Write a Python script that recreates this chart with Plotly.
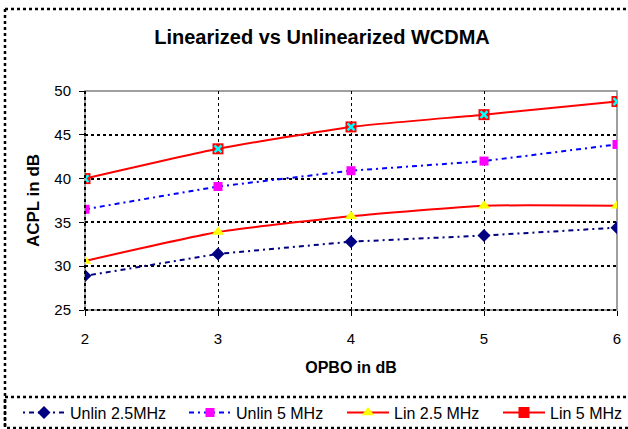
import plotly.graph_objects as go

opbo = [2, 3, 4, 5, 6]
unlin_25 = [28.9, 31.4, 32.8, 33.5, 34.4]
unlin_5 = [36.5, 39.1, 40.9, 42.0, 43.9]
lin_25 = [30.6, 33.9, 35.7, 36.9, 36.9]
lin_5 = [40.0, 43.4, 45.9, 47.3, 48.8]

FONT = "Liberation Sans, Arial, sans-serif"

W, H = 628, 429
L, R, T, B = 85, 11, 91, 119
pw, ph = W - L - R, H - T - B

def px_x(x):
    return (x - L) / pw

def px_y(y):
    return (H - B - y) / ph

fig = go.Figure()
fig.add_trace(go.Scatter(x=opbo, y=unlin_25, name="Unlin 2.5MHz", mode="lines+markers",
                         legend="legend", showlegend=True,
                         line=dict(color="#000080", width=2, dash="2px,4px,5px,4px"),
                         marker=dict(symbol="diamond", size=10, color="#000080")))
fig.add_trace(go.Scatter(x=opbo, y=unlin_5, name="Unlin 5 MHz", mode="lines+markers",
                         legend="legend2", showlegend=True,
                         line=dict(color="#0000FF", width=2, dash="5px,4px,2px,4px"),
                         marker=dict(symbol="square", size=9, color="#FF00FF")))
fig.add_trace(go.Scatter(x=opbo, y=lin_25, name="Lin 2.5 MHz", mode="lines+markers",
                         legend="legend3", showlegend=True,
                         line=dict(color="#FF0000", width=2, shape="spline", smoothing=0.5),
                         marker=dict(symbol="triangle-up", size=11, color="#FFFF00")))
fig.add_trace(go.Scatter(x=opbo, y=lin_5, name="Lin 5 MHz", mode="lines+markers",
                         legend="legend4", legendgroup="l5", showlegend=True,
                         line=dict(color="#FF0000", width=2, shape="spline", smoothing=0.5),
                         marker=dict(symbol="square", size=11, color="#FF0000")))
fig.add_trace(go.Scatter(x=opbo, y=lin_5, name="Lin 5 MHz", mode="markers",
                         legend="legend4", legendgroup="l5", showlegend=False,
                         marker=dict(symbol="x-thin-open", size=7, color="#00FFFF",
                                     line=dict(color="#00FFFF", width=2.5))))

shapes = [
    dict(type="rect", xref="paper", yref="paper", x0=0, x1=1, y0=0, y1=1,
         line=dict(color="#808080", width=1.5), layer="below"),
    dict(type="line", xref="paper", yref="paper", x0=0, x1=0, y0=0, y1=1,
         line=dict(color="black", width=2, dash="dot")),
    dict(type="line", xref="paper", yref="paper", x0=0, x1=1, y0=0, y1=0,
         line=dict(color="black", width=2, dash="dot")),
    dict(type="line", xref="paper", yref="paper", x0=px_x(5), x1=px_x(5), y0=px_y(9), y1=px_y(440),
         line=dict(color="black", width=2.5, dash="dot")),
    dict(type="line", xref="paper", yref="paper", x0=px_x(5), x1=px_x(640), y0=px_y(9), y1=px_y(9),
         line=dict(color="black", width=2.5, dash="dot")),
    dict(type="rect", xref="paper", yref="paper", x0=px_x(5), x1=px_x(640), y0=px_y(397), y1=px_y(428),
         line=dict(color="black", width=2.5, dash="dot")),
]

def leg(xpx):
    return dict(orientation="h", x=px_x(xpx), xanchor="left", y=px_y(412.5), yanchor="middle",
                font=dict(size=16, family=FONT), bgcolor="rgba(0,0,0,0)", itemwidth=42)

fig.update_layout(
    width=W, height=H,
    showlegend=True,
    margin=dict(l=L, r=R, t=T, b=B, autoexpand=False),
    paper_bgcolor="white", plot_bgcolor="white",
    font=dict(family=FONT, size=15, color="black"),
    title=dict(text="<b>Linearized vs Unlinearized WCDMA</b>", x=322 / W, xanchor="center",
               y=1 - 37 / H, yanchor="middle", font=dict(size=20, family=FONT)),
    xaxis=dict(range=[2, 6], tickvals=[2, 3, 4, 5, 6], showgrid=True, gridcolor="black",
               gridwidth=1, griddash="dot", ticks="outside", ticklen=5, tickcolor="black",
               tickwidth=1, showline=False, zeroline=False, ticklabelstandoff=10,
               tickfont=dict(size=15),
               title=dict(text="<b>OPBO in dB</b>", font=dict(size=16), standoff=15)),
    yaxis=dict(range=[25, 50], tickvals=[25, 30, 35, 40, 45, 50], showgrid=True, gridcolor="black",
               gridwidth=2, griddash="dot", ticks="outside", ticklen=5, tickcolor="black",
               tickwidth=1, showline=False, zeroline=False, ticklabelstandoff=5,
               tickfont=dict(size=15),
               title=dict(text="<b>ACPL in dB</b>", font=dict(size=17), standoff=10)),
    legend=leg(18), legend2=leg(184), legend3=leg(342), legend4=leg(498),
    shapes=shapes,
)

fig.write_html("out.html")
